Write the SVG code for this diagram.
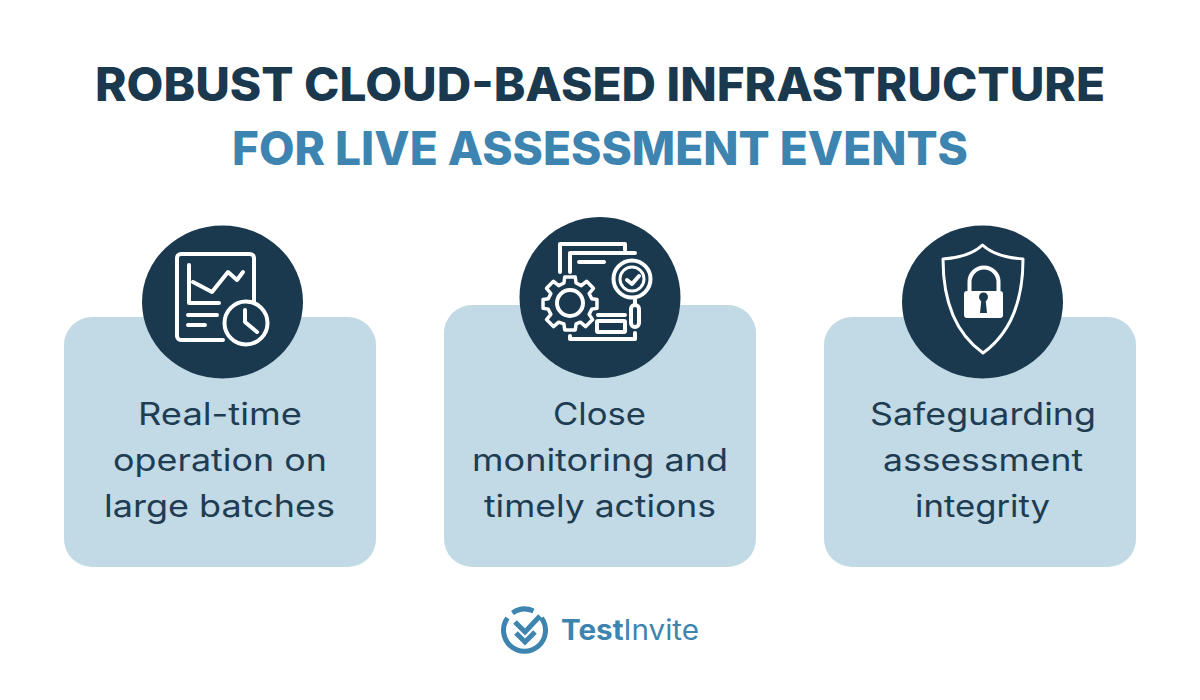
<svg xmlns="http://www.w3.org/2000/svg" width="1200" height="700" viewBox="0 0 1200 700">
<style>
text{font-family:Inter,"Noto Sans","Liberation Sans",sans-serif;text-anchor:middle}
.t{font-size:46px;font-weight:800;letter-spacing:0}
.b{font-size:31px;font-weight:400;fill:#1f3d52}
.card{fill:#c2d9e6}
.disc{fill:#1a394e}
.i{fill:none;stroke:#fff;stroke-width:4;stroke-linecap:round;stroke-linejoin:round}
.l{fill:none;stroke:#3d84b0;stroke-linecap:butt;stroke-linejoin:miter}
</style>
<rect width="1200" height="700" fill="#fff"/>
<g id="title">
<text class="t" x="600" y="101" fill="#1a394e" textLength="1010" lengthAdjust="spacingAndGlyphs">ROBUST CLOUD-BASED INFRASTRUCTURE</text>
<text class="t" x="600" y="165" fill="#3d84b0" textLength="736" lengthAdjust="spacingAndGlyphs">FOR LIVE ASSESSMENT EVENTS</text>
</g>
<g id="connectors"/>
<g id="node-realtime">
<rect class="card" x="64" y="317" width="312" height="250" rx="28"/>
<ellipse class="disc" cx="222.5" cy="302" rx="80.5" ry="76.5"/>
<path class="i" d="M223 340H181a4 4 0 0 1-4-4V258a4 4 0 0 1 4-4H250a4 4 0 0 1 4 4V302"/>
<path class="i" d="M189 265V303H219M193 282L212 292L228 272L237 280L243 272M188 315H217M188 325H205"/>
<circle class="i" cx="246" cy="323" r="21.5"/>
<path class="i" d="M245 310V322L257 332"/>
<text class="b" x="220" y="425" textLength="164" lengthAdjust="spacingAndGlyphs">Real-time</text>
<text class="b" x="220" y="471" textLength="214" lengthAdjust="spacingAndGlyphs">operation on</text>
<text class="b" x="219.500" y="517" textLength="231" lengthAdjust="spacingAndGlyphs">large batches</text>
</g>
<g id="node-monitoring">
<rect class="card" x="444" y="305" width="312" height="262" rx="28"/>
<circle class="disc" cx="600" cy="297.500" r="80.500"/>
<path class="i" d="M560 272V244H625V250M570 272V253H635M579 262H604M598 315H625M570 336V339H635V333"/>
<rect class="i" x="597" y="321" width="28" height="11" rx="1"/>
<g class="i">
<circle cx="570" cy="303" r="13"/>
<path transform="translate(570 303.500) scale(.87) translate(-570 -307.500)" d="M564 277H576L577 284L583 287L589 282L597 290L592 296L595 302L601 303V313L595 314L592 320L596 326L588 334L582 329L577 331L576 338H564L563 331L557 329L551 334L543 326L548 320L545 314L539 313V303L545 302L548 296L543 290L551 282L557 287L563 284Z"/>
<circle cx="632" cy="279" r="18.500"/>
<circle cx="632" cy="279" r="12" stroke-width="3"/>
<path d="M627 280L632 284L639 276M635 298V305"/>
<rect x="631" y="305" width="8" height="22" rx="4"/>
</g>
<text class="b" x="599.500" y="425" textLength="93" lengthAdjust="spacingAndGlyphs">Close</text>
<text class="b" x="600" y="471" textLength="256" lengthAdjust="spacingAndGlyphs">monitoring and</text>
<text class="b" x="600" y="517" textLength="232" lengthAdjust="spacingAndGlyphs">timely actions</text>
</g>
<g id="node-integrity">
<rect class="card" x="824" y="317" width="312" height="250" rx="28"/>
<ellipse class="disc" cx="982.500" cy="302" rx="80.500" ry="76.500"/>
<path d="M982.500 245C973 254 958 258 943 259C943 300 955 333 983 353C1011 333 1023 300 1023 259C1008 258 992 254 982.500 245Z" fill="none" stroke="#fff" stroke-width="3" stroke-linejoin="round"/>
<path class="i" d="M969.500 291V282A14.500 14.500 0 0 1 998.500 282V291"/>
<rect x="964" y="291" width="39" height="27" rx="3" fill="#fff"/>
<circle cx="983.500" cy="297" r="4.500" fill="#1a394e"/>
<path d="M981.500 299H985.500L987 313H980Z" fill="#1a394e"/>
<text class="b" x="983" y="425" textLength="226" lengthAdjust="spacingAndGlyphs">Safeguarding</text>
<text class="b" x="983" y="471" textLength="200" lengthAdjust="spacingAndGlyphs">assessment</text>
<text class="b" x="982.500" y="517" textLength="135" lengthAdjust="spacingAndGlyphs">integrity</text>
</g>
<g id="logo">
<path class="l" stroke-width="5" d="M507.500 618A21 21 0 1 0 541.500 618M512.500 613A21 21 0 0 1 533.500 611"/>
<path class="l" stroke-width="5" d="M515 622L525 632L540 616M516 633L525 642L535 632"/>
<text x="561" y="640" font-size="28" font-weight="700" fill="#3d84b0" style="text-anchor:start" textLength="138" lengthAdjust="spacingAndGlyphs">Test<tspan font-weight="400">Invite</tspan></text>
</g>
</svg>
